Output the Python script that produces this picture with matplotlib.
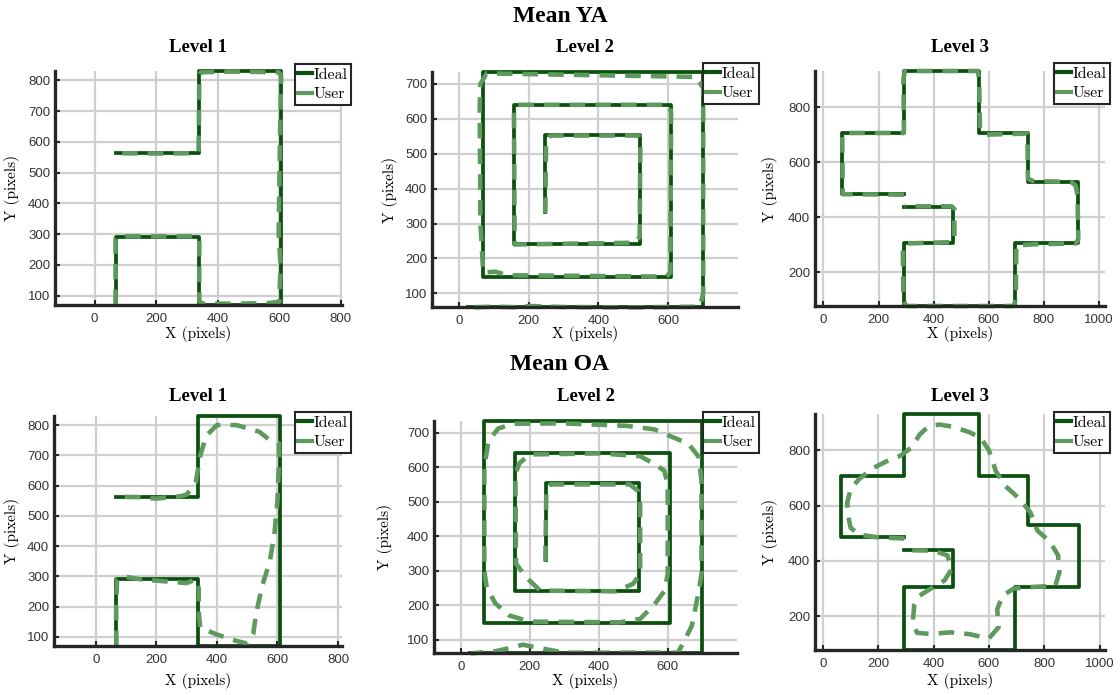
import matplotlib
matplotlib.use('Agg')
import matplotlib.pyplot as plt
from matplotlib.lines import Line2D

# ---- Level 1 ----
L1_IDEAL_X = [68, 68, 338, 338, 607, 607, 338, 338, 68]
L1_IDEAL_Y = [70, 292, 292, 70, 70, 830, 830, 563, 563]

L1_YA_X = [68, 68, 75, 330, 340, 340, 350, 450, 560, 600, 604, 598, 602, 606, 598, 450, 345, 340, 338, 330, 200, 65]
L1_YA_Y = [70, 285, 293, 293, 285, 82, 75, 74, 76, 80, 200, 300, 600, 815, 826, 828, 826, 815, 575, 563, 562, 563]

L1_OA_X = [68, 67, 70, 90, 150, 250, 300, 330, 340, 340, 345, 400, 460, 500, 520, 530, 550, 575, 590, 600,
           605, 605, 575, 540, 465, 400, 365, 345, 330, 300, 280, 200, 140, 67]
L1_OA_Y = [70, 200, 290, 300, 290, 282, 278, 290, 260, 180, 130, 108, 88, 78, 110, 180, 270, 350, 440, 550,
           670, 740, 750, 778, 800, 800, 765, 700, 610, 570, 565, 557, 562, 563]

# ---- Level 2 ----
L2_IDEAL_X = [248, 248, 518, 518, 158, 158, 607, 607, 68, 68, 698, 698, 25]
L2_IDEAL_Y = [332, 553, 553, 240, 240, 640, 640, 148, 148, 734, 734, 61, 61]

L2_YA_X = [248, 250, 262, 515, 520, 518, 505, 160, 158, 170, 600, 608, 606, 595, 140, 105, 70, 62, 60, 62,
           80, 680, 700, 700, 695, 690, 500, 300, 200, 180, 100, 30]
L2_YA_Y = [330, 540, 552, 552, 540, 262, 245, 240, 630, 640, 640, 620, 160, 148, 152, 162, 160, 300, 640, 700,
           730, 720, 688, 100, 80, 62, 60, 61, 64, 60, 62, 60]

L2_OA_X = [245, 248, 260, 490, 515, 520, 520, 500, 450, 230, 190, 160, 158, 170, 200, 400, 520, 560, 590, 600,
           600, 590, 560, 520, 460, 200, 140, 100, 75, 68, 68, 80, 108, 150, 300, 480, 560, 660, 690, 698,
           698, 690, 670, 650, 630, 500, 300, 225, 180, 140, 100, 30]
L2_OA_Y = [327, 540, 550, 550, 530, 490, 290, 262, 240, 242, 280, 320, 580, 612, 637, 640, 632, 610, 590, 550,
           290, 240, 200, 160, 150, 152, 170, 205, 250, 300, 600, 676, 712, 726, 727, 720, 710, 668, 630, 560,
           290, 240, 140, 100, 62, 62, 62, 76, 85, 75, 66, 60]

# ---- Level 3 ----
L3_IDEAL_X = [292, 66, 66, 292, 292, 563, 563, 742, 742, 925, 925, 696, 696, 292, 292, 471, 471, 292]
L3_IDEAL_Y = [486, 486, 706, 706, 931, 931, 706, 706, 529, 529, 305, 305, 78, 78, 305, 305, 439, 439]

L3_YA_X = [292, 70, 68, 75, 290, 292, 290, 295, 560, 565, 568, 590, 740, 742, 760, 900, 915, 922, 925, 915,
           770, 700, 698, 690, 300, 290, 288, 300, 470, 475, 475, 465, 295]
L3_YA_Y = [482, 484, 700, 706, 706, 720, 900, 931, 931, 900, 720, 700, 704, 540, 532, 528, 515, 480, 320, 305,
           302, 298, 100, 78, 78, 100, 290, 305, 310, 330, 430, 440, 440]

L3_OA_X = [295, 200, 130, 100, 90, 88, 100, 130, 180, 230, 280, 320, 350, 380, 420, 470, 530, 570, 600, 625,
           660, 710, 750, 775, 820, 850, 855, 840, 740, 690, 650, 630, 635, 600, 530, 460, 390, 340, 325, 330,
           350, 390, 440, 465, 450, 400, 295]
L3_OA_Y = [481, 485, 495, 520, 570, 610, 660, 695, 735, 760, 780, 810, 857, 885, 893, 885, 865, 845, 800, 724,
           670, 625, 575, 510, 470, 420, 360, 310, 305, 300, 275, 225, 160, 120, 135, 142, 136, 140, 180, 240,
           275, 300, 330, 370, 420, 437, 439]

TITLES = ['Level 1', 'Level 2', 'Level 3']
GROUPS = ['Mean YA', 'Mean OA']
X_TICKS = [[0, 200, 400, 600, 800], [0, 200, 400, 600], [0, 200, 400, 600, 800, 1000]]
Y_TICKS = [[100, 200, 300, 400, 500, 600, 700, 800], [100, 200, 300, 400, 500, 600, 700], [200, 400, 600, 800]]

IDEAL = [(L1_IDEAL_X, L1_IDEAL_Y), (L2_IDEAL_X, L2_IDEAL_Y), (L3_IDEAL_X, L3_IDEAL_Y)]
USER = [[(L1_YA_X, L1_YA_Y), (L2_YA_X, L2_YA_Y), (L3_YA_X, L3_YA_Y)],
        [(L1_OA_X, L1_OA_Y), (L2_OA_X, L2_OA_Y), (L3_OA_X, L3_OA_Y)]]

IDEAL_COLOR = '#0b500f'
USER_COLOR = '#5e9a5e'
AX_COLOR = '#262626'

W, H = 1120, 695
fig = plt.figure(figsize=(W / 100, H / 100), dpi=100)

# plot boxes in pixels: left, top, right, bottom
BOXES = [[(55, 71, 342, 305), (432, 72, 738, 307), (815, 71, 1105, 306)],
         [(54, 416, 342, 646), (434, 421, 737, 653), (815, 414, 1105, 650)]]
LEGEND_CORNERS = [[(351, 64), (759, 63), (1110, 63)],
                  [(351, 412), (759, 412), (1110, 412)]]
TITLE_BASE = [52, 401]
XLABEL_TOP = [[326, 326, 326], [673, 673, 673]]
YLABEL_RIGHT = [[20, 398, 778], [20, 393, 778]]
GROUP_Y = [17, 365]

for r in range(2):
    fig.text(0.5, 1 - GROUP_Y[r] / H, GROUPS[r], ha='center', va='center',
             family='Liberation Serif', weight='bold', fontsize=17)
    for c in range(3):
        left, top, right, bottom = BOXES[r][c]
        w, h = right - left, bottom - top
        ax = fig.add_axes([left / W, 1 - bottom / H, w / W, h / H])

        ix, iy = IDEAL[c]
        ux, uy = USER[r][c]
        ax.grid(True, color='#cfcfcf', lw=1.6)
        ax.set_axisbelow(True)
        ax.plot(ix, iy, color=IDEAL_COLOR, lw=2.7, solid_joinstyle='round', clip_on=False)
        ax.plot(ux, uy, color=USER_COLOR, lw=3.3, dashes=(3.4, 2.2), clip_on=False)

        # equal data aspect: y tight to the ideal path, x widened around its centre
        y0, y1 = min(iy), max(iy)
        xc = (min(ix) + max(ix)) / 2
        half = (y1 - y0) * w / h / 2
        ax.set_ylim(y0, y1)
        ax.set_xlim(xc - half, xc + half)

        ax.set_xticks(X_TICKS[c])
        ax.set_yticks(Y_TICKS[c])
        for s in ['top', 'right']:
            ax.spines[s].set_visible(False)
        for s in ['left', 'bottom']:
            ax.spines[s].set_linewidth(2.4)
            ax.spines[s].set_color(AX_COLOR)
        ax.tick_params(direction='in', length=3.5, width=1.5, color=AX_COLOR,
                       labelcolor='#333333', labelsize=9.5)
        ax.tick_params(axis='x', pad=6)
        ax.tick_params(axis='y', pad=3.5)
        for lab in ax.get_xticklabels() + ax.get_yticklabels():
            lab.set_family('Liberation Sans')

        ax.set_title(TITLES[c], family='Liberation Serif', weight='bold', fontsize=13.5,
                     y=(bottom - TITLE_BASE[r]) / h, pad=0)
        ax.set_xlabel('X (pixels)', family='cmr10', fontsize=11)
        ax.set_ylabel('Y (pixels)', family='cmr10', fontsize=11)
        ax.xaxis.set_label_coords(0.5, -(XLABEL_TOP[r][c] - bottom) / h)
        ax.yaxis.set_label_coords((YLABEL_RIGHT[r][c] - left) / w, 0.5)

        handles = [Line2D([], [], color=IDEAL_COLOR, lw=3),
                   Line2D([], [], color=USER_COLOR, lw=3)]
        lx, ly = LEGEND_CORNERS[r][c]
        leg = ax.legend(handles, ['Ideal', 'User'], loc='upper right',
                        bbox_to_anchor=(lx / W, 1 - ly / H), bbox_transform=fig.transFigure,
                        borderaxespad=0, fancybox=False, framealpha=1, edgecolor=AX_COLOR,
                        handlelength=0.85, handletextpad=0.1, borderpad=0.22, labelspacing=0.35,
                        prop={'family': 'cmr10', 'size': 11.5})
        leg.get_frame().set_linewidth(1.5)

fig.savefig('out.png', dpi=100, facecolor='white')
